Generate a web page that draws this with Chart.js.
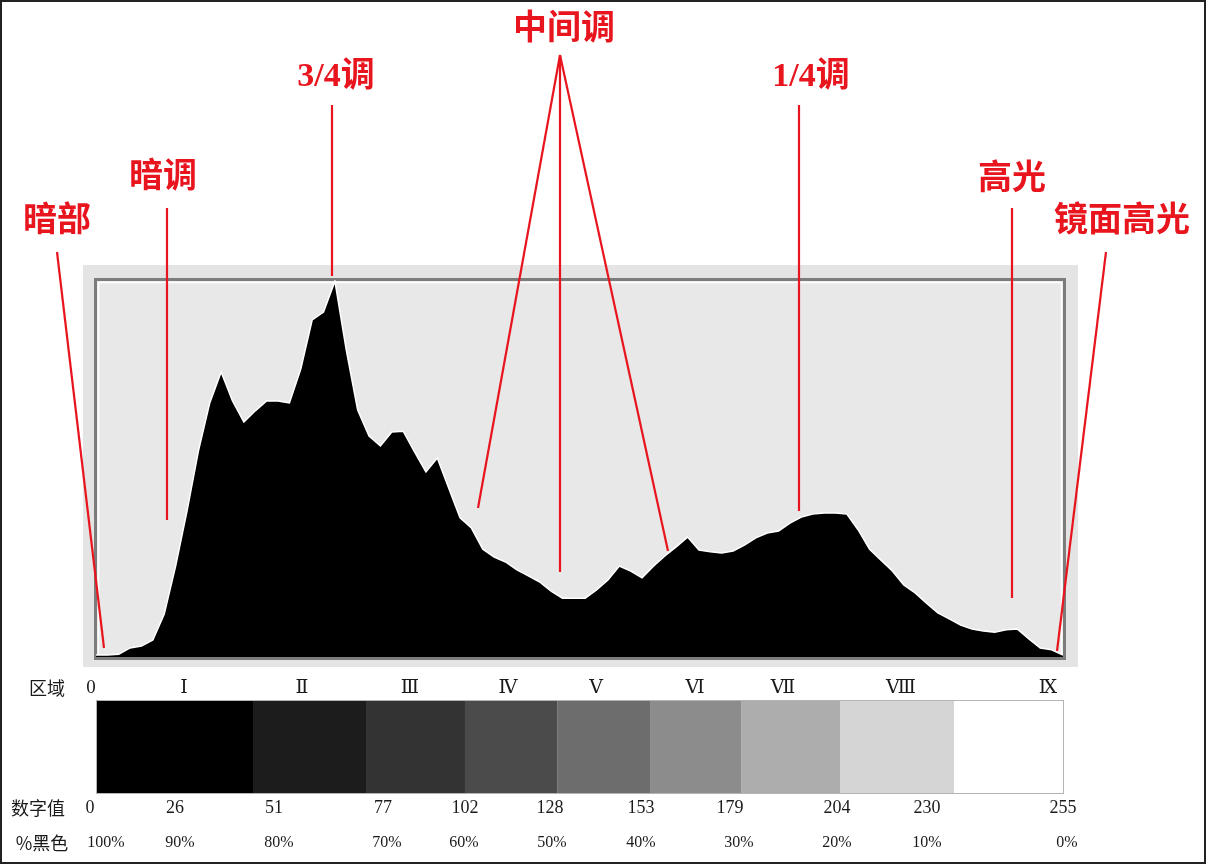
<!DOCTYPE html>
<html lang="zh">
<head>
    <meta charset="UTF-8">
    <title>直方图 - 色调区域</title>
    <script src="https://cdn.jsdelivr.net/npm/chart.js"></script>
    <style>
        body { margin: 0; background: #fff; overflow: hidden; }
        canvas { display: block; }
    </style>
</head>
<body>
    <canvas id="histChart" width="1206" height="864"></canvas>
    <script>
        // 色阶 (0-255) 与各色阶像素数量 (峰值 = 100)
        const levels = [0, 3, 6, 9, 12, 15, 18, 21, 24, 27, 30, 33, 36, 39, 42, 45, 48, 51, 54, 57,
            60, 63, 66, 69, 72, 75, 78, 81, 84, 87, 90, 93, 96, 99, 102, 105, 108, 111, 114, 117,
            120, 123, 126, 129, 132, 135, 138, 141, 144, 147, 150, 153, 156, 159, 162, 165, 168, 171, 174, 177,
            180, 183, 186, 189, 192, 195, 198, 201, 204, 207, 210, 213, 216, 219, 222, 225, 228, 231, 234, 237,
            240, 243, 246, 249, 252, 255];
        const counts = [0.5, 0.5, 0.7, 2.4, 2.9, 4.5, 11.4, 24.1, 38.7, 54.6, 67.4, 75.6, 67.9, 62.3, 65.3, 67.9, 67.9, 67.4, 76.4, 89.4,
            91.5, 99.7, 81.4, 65.5, 58.6, 56.0, 59.7, 59.9, 54.4, 49.1, 52.8, 44.8, 36.9, 34.2, 28.6, 26.5, 25.2, 23.1, 21.5, 19.9,
            17.5, 15.6, 15.6, 15.6, 17.8, 20.4, 24.1, 22.8, 21.0, 24.1, 26.8, 29.2, 31.8, 28.4, 27.9, 27.6, 28.1, 29.7, 31.6, 32.9,
            33.4, 35.5, 37.1, 37.9, 38.2, 38.2, 37.9, 33.7, 28.6, 25.7, 22.8, 19.1, 17.0, 14.3, 11.7, 10.1, 8.5, 7.4, 6.9, 6.6,
            7.2, 7.4, 4.8, 2.4, 1.9, 0.5];

        // 灰度条 (色阶边界) 与灰度
        const bandEdges = [0, 41.4, 71.2, 97.3, 121.6, 146.1, 170.1, 196.2, 226.3, 255];
        const bandShades = ['#000000', '#1c1c1c', '#333333', '#4b4b4b', '#6d6d6d', '#8c8c8c', '#adadad', '#d5d5d5', '#ffffff'];

        // 刻度文字
        const zoneLabels = ['0', 'Ⅰ', 'Ⅱ', 'Ⅲ', 'Ⅳ', 'Ⅴ', 'Ⅵ', 'Ⅶ', 'Ⅷ', 'Ⅸ'];
        const digitLabels = ['0', '26', '51', '77', '102', '128', '153', '179', '204', '230', '255'];
        const blackLabels = ['100%', '90%', '80%', '70%', '60%', '50%', '40%', '30%', '20%', '10%', '0%'];
        const rowTitles = ['区域', '数字值', '%黑色'];

        // 标注
        const notes = ['暗部', '暗调', '3/4调', '中间调', '1/4调', '高光', '镜面高光'];

        // ---- 版面 (像素) ----
        const zoneX = [91, 184, 302, 410, 508, 596, 695, 783, 901, 1048];
        const digitX = [90, 175, 274, 383, 465, 550, 641, 730, 837, 927, 1063];
        const blackX = [106, 180, 279, 387, 464, 552, 641, 739, 837, 927, 1067];
        const titleX = [47, 38, 42];
        const rowY = [688, 808, 843];
        const noteLayout = [
            { x: 57, y: 222, lines: [[57, 252, 104, 648]] },
            { x: 163, y: 178, lines: [[167, 208, 167, 520]] },
            { x: 336, y: 77, lines: [[332, 105, 332, 276]] },
            { x: 564, y: 30, lines: [[560, 55, 478, 508], [560, 55, 560, 572], [560, 55, 668, 551]] },
            { x: 811, y: 77, lines: [[799, 105, 799, 511]] },
            { x: 1012, y: 180, lines: [[1012, 208, 1012, 598]] },
            { x: 1122, y: 222, lines: [[1106, 252, 1057, 651]] }
        ];
        const RED = '#e8141e';

        const decorPlugin = {
            id: 'decor',
            beforeDraw(chart) {
                const c = chart.ctx;
                c.save();
                c.fillStyle = '#ffffff';
                c.fillRect(0, 0, chart.width, chart.height);
                c.strokeStyle = '#222';
                c.lineWidth = 2;
                c.strokeRect(1, 1, chart.width - 2, chart.height - 2);
                // 直方图面板
                c.fillStyle = '#e4e4e4';
                c.fillRect(83, 265, 995, 402);
                c.fillStyle = '#e8e8e8';
                c.fillRect(96, 279, 968, 379);
                c.strokeStyle = '#ffffff';
                c.lineWidth = 1.5;
                c.strokeRect(98.5, 282.5, 963, 374);
                c.strokeStyle = '#7c7c7c';
                c.lineWidth = 3;
                c.strokeRect(95.5, 279.5, 969, 379);
                c.restore();
            },
            afterDraw(chart) {
                const c = chart.ctx;
                const xs = chart.scales.x;
                c.save();
                // 灰度条
                for (let i = 0; i < bandShades.length; i++) {
                    const x0 = xs.getPixelForValue(bandEdges[i]);
                    const x1 = xs.getPixelForValue(bandEdges[i + 1]);
                    c.fillStyle = bandShades[i];
                    c.fillRect(x0, 700, x1 - x0, 94);
                }
                c.strokeStyle = '#b4b4b4';
                c.lineWidth = 1;
                c.strokeRect(xs.getPixelForValue(0) + 0.5, 700.5, xs.getPixelForValue(255) - xs.getPixelForValue(0), 93);

                // 底部文字
                c.fillStyle = '#1a1a1a';
                c.textAlign = 'center';
                c.textBaseline = 'middle';
                c.font = '18px "Noto Sans CJK SC"';
                rowTitles.forEach((t, i) => c.fillText(t, titleX[i], rowY[i]));
                c.font = '19px "Liberation Serif", "DejaVu Serif", "Noto Sans CJK SC"';
                zoneLabels.forEach((t, i) => c.fillText(t, zoneX[i], rowY[0]));
                c.font = '18px "Liberation Serif"';
                digitLabels.forEach((t, i) => c.fillText(t, digitX[i], rowY[1]));
                c.font = '16px "Liberation Serif"';
                blackLabels.forEach((t, i) => c.fillText(t, blackX[i], rowY[2]));

                // 红色标注
                c.strokeStyle = RED;
                c.fillStyle = RED;
                c.lineWidth = 2.2;
                c.font = 'bold 34px "Liberation Serif", "Noto Sans CJK SC"';
                notes.forEach((t, i) => {
                    const n = noteLayout[i];
                    c.fillText(t, n.x, n.y);
                    n.lines.forEach(l => {
                        c.beginPath();
                        c.moveTo(l[0], l[1]);
                        c.lineTo(l[2], l[3]);
                        c.stroke();
                    });
                });
                c.restore();
            }
        };

        const ctx = document.getElementById('histChart').getContext('2d');
        const histChart = new Chart(ctx, {
            type: 'line',
            data: {
                datasets: [{
                    data: levels.map((v, i) => ({ x: v, y: counts[i] })),
                    fill: 'origin',
                    backgroundColor: '#000000',
                    borderColor: '#ffffff',
                    borderWidth: 1.5,
                    pointRadius: 0,
                    tension: 0
                }]
            },
            options: {
                responsive: false,
                animation: false,
                layout: { padding: { left: 96, right: 143, top: 280, bottom: 207 } },
                scales: {
                    x: { type: 'linear', min: 0, max: 255, display: false },
                    y: { min: 0, max: 100, display: false }
                },
                plugins: { legend: { display: false }, tooltip: { enabled: false } }
            },
            plugins: [decorPlugin]
        });
    </script>
</body>
</html>
